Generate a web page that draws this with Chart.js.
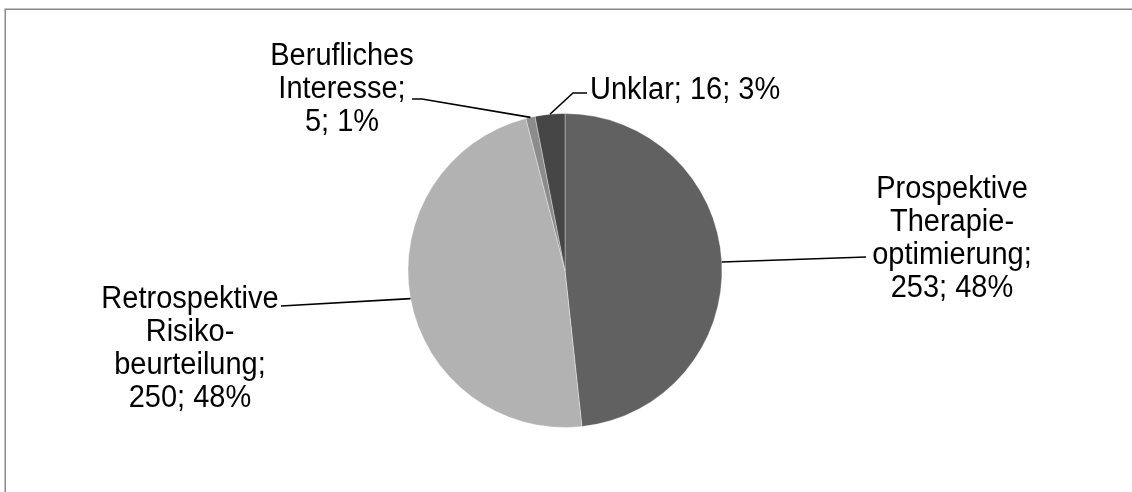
<!DOCTYPE html><html lang="de"><head>
    <meta charset="UTF-8">
    <title>Anlass der Anfragen</title>
    <script src="https://cdn.jsdelivr.net/npm/chart.js@4.4.1/dist/chart.umd.min.js"></script>
    <style>
      body { margin: 0; background: #fff; overflow: hidden; }
      canvas { display: block; }
    </style>
  </head>
  <body>
    <canvas id="myChart" width="1132" height="492"></canvas>

    <script>
      // categories, in drawing order clockwise from 12 o'clock
      const categories = ['Prospektive Therapieoptimierung', 'Retrospektive Risikobeurteilung', 'Berufliches Interesse', 'Unklar'];
      // how each category name is wrapped in its label
      const nameLines = [
        ['Prospektive', 'Therapie-', 'optimierung;'],
        ['Retrospektive', 'Risiko-', 'beurteilung;'],
        ['Berufliches', 'Interesse;'],
        ['Unklar;']
      ];
      const counts = [253, 250, 5, 16];
      const colors = ['#616161', '#b2b2b2', '#8c8c8c', '#464646'];

      // label placement: text anchor, first baseline, leader line bend points
      const labelLayout = [
        { x: 952, y: 198, align: 'center', inline: false, path: [[866, 257]] },
        { x: 190, y: 308, align: 'center', inline: false, path: [[281, 306]] },
        { x: 342, y: 65, align: 'center', inline: false, path: [[422, 99], [412, 99]] },
        { x: 590, y: 99, align: 'left', inline: true, path: [[573, 93], [587, 93]] }
      ];

      const total = counts.reduce((a, b) => a + b, 0);
      const FONT = '29px "Liberation Sans", Arial, sans-serif';
      const STRETCH = 1.1; // glyphs are a little taller than wide
      const LINE_H = 33;

      const framePlugin = {
        id: 'frame',
        beforeDraw(chart) {
          const ctx = chart.ctx;
          ctx.save();
          ctx.fillStyle = '#fff';
          ctx.fillRect(0, 0, chart.width, chart.height);
          ctx.strokeStyle = '#888';
          ctx.lineWidth = 1.5;
          ctx.beginPath();
          ctx.moveTo(5.25, chart.height);
          ctx.lineTo(5.25, 9.25);
          ctx.lineTo(chart.width, 9.25);
          ctx.stroke();
          ctx.restore();
        }
      };

      const leaderLabels = {
        id: 'leaderLabels',
        afterDatasetsDraw(chart) {
          const ctx = chart.ctx;
          const arcs = chart.getDatasetMeta(0).data;
          ctx.save();
          ctx.font = FONT;
          ctx.fillStyle = '#000';
          ctx.strokeStyle = '#000';
          ctx.lineWidth = 1.6;
          arcs.forEach((arc, i) => {
            const p = arc.getProps(['x', 'y', 'startAngle', 'endAngle', 'outerRadius'], true);
            const mid = (p.startAngle + p.endAngle) / 2;
            const sx = p.x + Math.cos(mid) * p.outerRadius;
            const sy = p.y + Math.sin(mid) * p.outerRadius;
            const lay = labelLayout[i];

            ctx.beginPath();
            ctx.moveTo(sx, sy);
            lay.path.forEach(pt => ctx.lineTo(pt[0], pt[1]));
            ctx.stroke();

            const pct = Math.round(counts[i] / total * 100);
            const valueText = counts[i] + '; ' + pct + '%';
            let lines;
            if (lay.inline) {
              lines = [nameLines[i].join(' ') + ' ' + valueText];
            } else {
              lines = nameLines[i].concat([valueText]);
            }
            ctx.textAlign = lay.align;
            ctx.textBaseline = 'alphabetic';
            lines.forEach((t, k) => {
              ctx.save();
              ctx.translate(lay.x, lay.y + k * LINE_H);
              ctx.scale(1, STRETCH);
              ctx.fillText(t, 0, 0);
              ctx.restore();
            });
          });
          ctx.restore();
        }
      };

      const ctx = document.getElementById('myChart').getContext('2d');
      const myChart = new Chart(ctx, {
        type: 'pie',
        data: {
          labels: categories,
          datasets: [{
            data: counts,
            backgroundColor: colors,
            borderColor: 'rgba(255, 255, 255, 0.35)',
            borderWidth: 1
          }]
        },
        options: {
          responsive: false,
          animation: false,
          devicePixelRatio: 1,
          radius: 157,
          layout: { padding: { top: 113, bottom: 64, left: 0, right: 2 } },
          plugins: {
            legend: { display: false },
            tooltip: { enabled: false }
          }
        },
        plugins: [framePlugin, leaderLabels]
      });
    </script>
  
</body></html>
